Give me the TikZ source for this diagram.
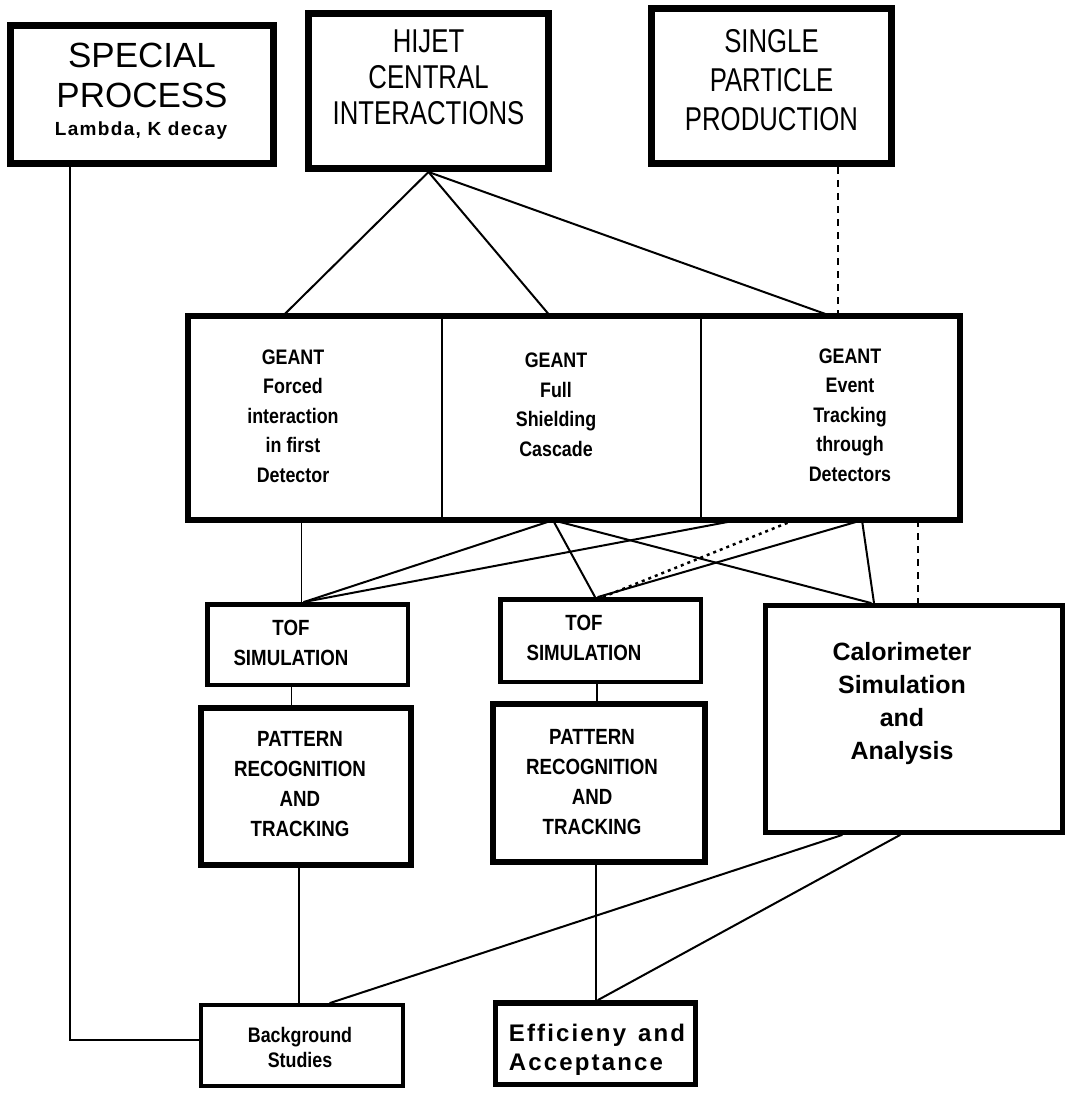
\documentclass[tikz,border=0pt]{standalone}
\usepackage{fontspec}
\setmainfont{Liberation Sans}
\newfontfamily\condfont{Liberation Sans}[FakeStretch=0.78]
\newfontfamily\condbold{Liberation Sans}[FakeStretch=0.85]
\newfontfamily\trackfont{Liberation Sans}[LetterSpace=9]
\newfontfamily\lamfont{Liberation Sans}[LetterSpace=7]
\tikzset{
  box/.style={draw, rectangle, inner sep=0pt, line width=#1},
  box/.default=6pt,
  cell/.style={rectangle, inner sep=0pt},
  txt/.style={inner sep=0pt, align=center},
  conn/.style={line width=2pt, line cap=round},
  thinconn/.style={line width=1.5pt},
  dotline/.style={line width=2.5pt, dash pattern=on 3pt off 4pt},
  dashline/.style={line width=2pt, dash pattern=on 7pt off 6pt},
  geantfont/.style={font=\condbold\bfseries\fontsize{21}{29.5}\selectfont},
  tofont/.style={font=\condbold\bfseries\fontsize{22}{30}\selectfont},
}
\begin{document}
\begin{tikzpicture}[x=1pt,y=-1pt]
\path[use as bounding box] (0,0) rectangle (1069,1094);

% top boxes
\node[box=7pt, minimum width=263pt, minimum height=138pt] (sp) at (142,94.5) {};
\node[txt, font=\fontsize{35}{40}\selectfont] (spT) at (142,75) {SPECIAL\\PROCESS};
\node[txt, font=\lamfont\bfseries\fontsize{19}{21}\selectfont] (spL) at (141,131) {Lambda, K decay};

\node[box=7pt, minimum width=240pt, minimum height=155pt] (hj) at (428.5,91) {};
\node[txt, font=\condfont\fontsize{33}{36}\selectfont] (hjT) at (428.5,77) {HIJET\\CENTRAL\\INTERACTIONS};

\node[box=7pt, minimum width=240pt, minimum height=155pt] (sn) at (771.5,86) {};
\node[txt, font=\condfont\fontsize{33}{39}\selectfont] (snT) at (771.5,80) {SINGLE\\PARTICLE\\PRODUCTION};

% GEANT block
\node[cell, minimum width=254pt, minimum height=204pt] (g1) at (315,418) {};
\node[cell, minimum width=259pt, minimum height=204pt] (g2) at (571.5,418) {};
\node[cell, minimum width=259pt, minimum height=204pt] (g3) at (830.5,418) {};
\draw[line width=6pt] (g1.north west) rectangle (g3.south east);
\draw[thinconn] (g1.north east) -- (g1.south east);
\draw[thinconn] (g2.north east) -- (g2.south east);
\node[txt, geantfont] (g1T) at (293,416) {GEANT\\Forced\\interaction\\in first\\Detector};
\node[txt, geantfont] (g2T) at (556,405) {GEANT\\Full\\Shielding\\Cascade};
\node[txt, geantfont] (g3T) at (850,415) {GEANT\\Event\\Tracking\\through\\Detectors};

% TOF boxes
\node[box=4.5pt, minimum width=200.5pt, minimum height=80.5pt] (tof1) at (307.5,644.5) {};
\node[txt, tofont] (tof1T) at (291,642.5) {TOF\\SIMULATION};
\node[box=4.5pt, minimum width=200.5pt, minimum height=82.5pt] (tof2) at (600.5,640.5) {};
\node[txt, tofont] (tof2T) at (584,638) {TOF\\SIMULATION};

% pattern boxes
\node[box=6pt, minimum width=210pt, minimum height=157pt] (p1) at (306,786.5) {};
\node[txt, tofont] (p1T) at (300,784) {PATTERN\\RECOGNITION\\AND\\TRACKING};
\node[box=6pt, minimum width=212pt, minimum height=158pt] (p2) at (599,783) {};
\node[txt, tofont] (p2T) at (592,782) {PATTERN\\RECOGNITION\\AND\\TRACKING};

% calorimeter
\node[box=5pt, minimum width=297pt, minimum height=227pt] (cal) at (914,719) {};
\node[txt, font=\bfseries\fontsize{25}{33}\selectfont] (calT) at (902,704) {Calorimeter\\Simulation\\and\\Analysis};

% bottom boxes
\node[box=4pt, minimum width=202pt, minimum height=81pt] (bg) at (302,1045.5) {};
\node[txt, font=\condbold\bfseries\fontsize{21}{25}\selectfont] (bgT) at (300,1047) {Background\\Studies};
\node[box=5.5pt, minimum width=200pt, minimum height=81.5pt] (eff) at (595.5,1043.5) {};
\node[inner sep=0pt, align=left, font=\trackfont\bfseries\fontsize{24}{29}\selectfont] (effT) at (597,1050) {Efficieny\hspace{12pt}and\\Acceptance};

% connectors from top
\draw[conn] (hj.south) -- ([xshift=-32pt]g1.north);
\draw[conn] (hj.south) -- ([xshift=-21.5pt]g2.north);
\draw[conn] (hj.south) -- (g3.north);
\draw[dashline] ([xshift=66.5pt]sn.south) -- ([xshift=66.5pt]sn.south |- g3.north);
\draw[thinconn] ([xshift=-72pt]sp.south) |- ([yshift=5.5pt]bg.west);

% connectors below GEANT
\draw[thinconn] ([xshift=-6pt]tof1.north) -- ([xshift=-6pt]tof1.north |- g1.south);
\draw[conn] ([xshift=-18.5pt]g2.south) -- ([xshift=-3.5pt]tof1.north);
\draw[conn] ([xshift=-93.5pt]g3.south) -- ([xshift=-3.5pt]tof1.north);
\draw[conn] ([xshift=-18.5pt]g2.south) -- ([xshift=-5.5pt]tof2.north);
\draw[conn] ([xshift=-18.5pt]g2.south) -- ([xshift=-43pt]cal.north);
\draw[conn] ([xshift=31.5pt]g3.south) -- ([xshift=-2.5pt]tof2.north);
\draw[dotline] ([xshift=-36.5pt]g3.south) -- ([xshift=2.5pt]tof2.north);
\draw[conn] ([xshift=31.5pt]g3.south) -- ([xshift=-40pt]cal.north);
\draw[dashline] ([xshift=87.5pt]g3.south) -- ([xshift=4pt]cal.north);

% lower connectors
\draw[thinconn] ([xshift=-16pt]tof1.south) -- ([xshift=-16pt]tof1.south |- p1.north);
\draw[thinconn] ([xshift=-3.5pt]tof2.south) -- ([xshift=-3.5pt]tof2.south |- p2.north);
\draw[thinconn] ([xshift=-7pt]p1.south) -- ([xshift=-7pt]p1.south |- bg.north);
\draw[thinconn] ([xshift=-3pt]p2.south) -- ([xshift=-3pt]p2.south |- eff.north);
\draw[conn] ([xshift=-72pt]cal.south) -- ([xshift=28pt]bg.north);
\draw[conn] ([xshift=-14pt]cal.south) -- ([xshift=2.5pt]eff.north);
\end{tikzpicture}
\end{document}
